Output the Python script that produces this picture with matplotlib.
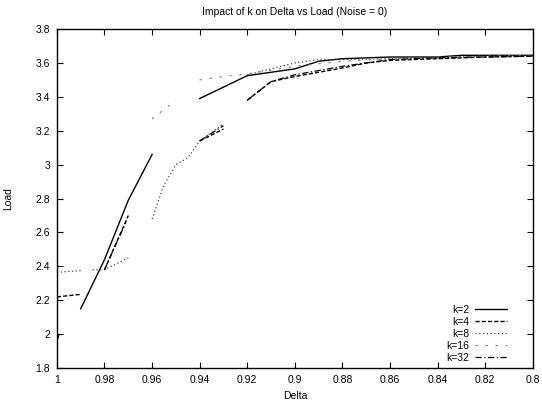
import numpy as np
import matplotlib
matplotlib.use("Agg")
import matplotlib.pyplot as plt

nan = np.nan

# Delta / Load readings per k (nan marks a break in the trace)
delta_k2 = [0.99, 0.98, 0.97, 0.96, nan, 0.94, 0.92, 0.91, 0.90, 0.89, 0.88, 0.86, 0.84, 0.83, 0.80]
load_k2 = [2.15, 2.44, 2.79, 3.06, nan, 3.39, 3.525, 3.545, 3.565, 3.61, 3.625, 3.635, 3.635, 3.645, 3.645]

delta_k4 = [1.0, 0.99, nan, 0.98, 0.97, nan, 0.94, 0.93, nan, 0.92, 0.91, 0.90, 0.88, 0.87, 0.86, 0.84, 0.82, 0.80]
load_k4 = [2.22, 2.235, nan, 2.38, 2.70, nan, 3.14, 3.21, nan, 3.38, 3.49, 3.52, 3.57, 3.60, 3.615, 3.625, 3.635, 3.64]

delta_k8 = [1.0, 0.99, nan, 0.985, 0.98, 0.97, nan, 0.96, 0.955, 0.95, 0.945, 0.94, 0.93, nan,
            0.92, 0.90, 0.89, 0.88, 0.86, 0.84, 0.82, 0.80]
load_k8 = [2.365, 2.375, nan, 2.38, 2.38, 2.45, nan, 2.68, 2.88, 3.0, 3.04, 3.14, 3.24, nan,
           3.53, 3.60, 3.62, 3.62, 3.625, 3.63, 3.64, 3.645]

delta_k16 = [0.96, 0.95, nan, 0.94, 0.93, 0.92, 0.90, 0.88, 0.86, 0.84, 0.82, 0.80]
load_k16 = [3.27, 3.38, nan, 3.50, 3.52, 3.535, 3.58, 3.61, 3.625, 3.635, 3.64, 3.645]

delta_k32 = [1.0, 0.999, nan, 0.98, 0.971, nan, 0.94, 0.93, nan, 0.92, 0.91, 0.90, 0.88, 0.86, 0.84, 0.80]
load_k32 = [1.96, 2.0, nan, 2.38, 2.66, nan, 3.14, 3.23, nan, 3.38, 3.49, 3.53, 3.58, 3.62, 3.63, 3.64]

x_ticks = [1.0, 0.98, 0.96, 0.94, 0.92, 0.9, 0.88, 0.86, 0.84, 0.82, 0.8]
x_tick_labels = ["1", "0.98", "0.96", "0.94", "0.92", "0.9", "0.88", "0.86", "0.84", "0.82", "0.8"]
y_ticks = [1.8, 2.0, 2.2, 2.4, 2.6, 2.8, 3.0, 3.2, 3.4, 3.6, 3.8]
y_tick_labels = ["1.8", "2", "2.2", "2.4", "2.6", "2.8", "3", "3.2", "3.4", "3.6", "3.8"]

plt.rcParams['font.family'] = ['Liberation Sans', 'DejaVu Sans']

fig = plt.figure(figsize=(5.42, 4.09), dpi=100)
ax = fig.add_axes([0.105, 0.10, 0.878, 0.829])

ax.plot(delta_k2, load_k2, color='black', linewidth=1.0, linestyle='-', label='k=2')
ax.plot(delta_k4, load_k4, color='black', linewidth=1.0, linestyle=(0, (3, 1.5)), label='k=4')
ax.plot(delta_k8, load_k8, color='#444444', linewidth=0.9, linestyle=(0, (1, 2)), label='k=8')
ax.plot(delta_k16, load_k16, color='#777777', linewidth=0.8, linestyle=(0, (2, 7)), label='k=16')
ax.plot(delta_k32, load_k32, color='black', linewidth=0.9, linestyle=(0, (5, 2, 1, 2)), label='k=32')

ax.set_xlim(1.0, 0.8)
ax.set_ylim(1.8, 3.8)
ax.set_xticks(x_ticks)
ax.set_xticklabels(x_tick_labels)
ax.set_yticks(y_ticks)
ax.set_yticklabels(y_tick_labels)
ax.tick_params(axis='both', which='major', direction='in', length=4, width=0.8,
               labelsize=7.5, top=True, right=True, pad=5)
for spine in ax.spines.values():
    spine.set_linewidth(1.0)

ax.set_xlabel('Delta', fontsize=7.5, labelpad=4)
ax.set_ylabel('Load', fontsize=7.5, labelpad=16)
ax.set_title('Impact of k on Delta vs Load (Noise = 0)', fontsize=7.5, pad=10)

ax.legend(loc='lower right', bbox_to_anchor=(0.945, 0.015), frameon=False,
          markerfirst=False, fontsize=7.5, handlelength=3.0, handletextpad=0.6,
          labelspacing=0.2, borderaxespad=0.0, borderpad=0.0)

fig.savefig('out.png', dpi=100)
